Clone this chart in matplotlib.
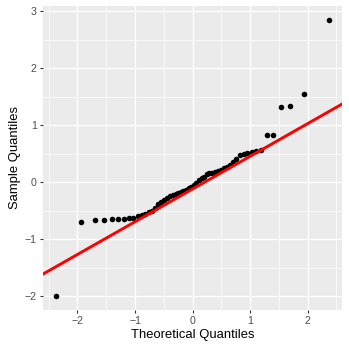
import numpy as np
import matplotlib
matplotlib.use("Agg")
import matplotlib.pyplot as plt
from matplotlib.ticker import MultipleLocator

plt.rcParams['font.family'] = ['Liberation Sans', 'DejaVu Sans']

# theoretical quantiles (x) and sample quantiles (y)
theoretical = [-2.369, -1.931, -1.699, -1.534, -1.403, -1.291, -1.195, -1.108,
               -1.029, -0.956, -0.887, -0.822, -0.761, -0.703, -0.647, -0.592,
               -0.540, -0.489, -0.439, -0.390, -0.342, -0.295, -0.249, -0.203,
               -0.157, -0.112, -0.067, -0.022, 0.022, 0.067, 0.112, 0.157,
               0.203, 0.249, 0.295, 0.342, 0.390, 0.439, 0.489, 0.540,
               0.592, 0.647, 0.703, 0.761, 0.822, 0.887, 0.956, 1.029,
               1.108, 1.195, 1.291, 1.403, 1.534, 1.699, 1.931, 2.369]
sample = [-2.00, -0.70, -0.66, -0.655, -0.65, -0.645, -0.64, -0.635,
          -0.625, -0.60, -0.575, -0.55, -0.52, -0.51, -0.46, -0.38,
          -0.34, -0.31, -0.27, -0.25, -0.23, -0.21, -0.19, -0.17,
          -0.16, -0.14, -0.11, -0.08, -0.05, -0.01, 0.04, 0.07,
          0.10, 0.14, 0.16, 0.17, 0.18, 0.20, 0.22, 0.25,
          0.27, 0.31, 0.36, 0.40, 0.48, 0.50, 0.52, 0.53,
          0.54, 0.56, 0.82, 0.82, 1.32, 1.33, 1.54, 2.84]

# reference line (qqline)
line_slope = 0.573
line_intercept = -0.12

fig = plt.figure(figsize=(3.49, 3.49), dpi=100)
ax = fig.add_axes([0.1232, 0.1117, 0.98 - 0.1232, 0.983 - 0.1117])

ax.set_facecolor('#EBEBEB')
for s in ax.spines.values():
    s.set_visible(False)

ax.set_xlim(-2.6, 2.6)
ax.set_ylim(-2.24, 3.09)
ax.xaxis.set_major_locator(MultipleLocator(1))
ax.yaxis.set_major_locator(MultipleLocator(1))
ax.xaxis.set_minor_locator(MultipleLocator(0.5))
ax.yaxis.set_minor_locator(MultipleLocator(0.5))
ax.grid(which='major', color='white', linewidth=1.0)
ax.grid(which='minor', color='white', linewidth=0.5)
ax.set_axisbelow(True)

ax.tick_params(which='major', length=2.5, width=0.8, color='#333333',
               labelsize=7.6, labelcolor='#4D4D4D', pad=2)
ax.tick_params(which='minor', length=0)

ax.scatter(theoretical, sample, s=16, color='black', zorder=3, linewidths=0)
ax.axline((0, line_intercept), slope=line_slope, color='red', linewidth=2.1, zorder=4)

ax.set_xlabel('Theoretical Quantiles', fontsize=9.4, color='black', labelpad=2)
ax.set_ylabel('Sample Quantiles', fontsize=9.4, color='black', labelpad=3)

fig.savefig('out.png', dpi=100)
